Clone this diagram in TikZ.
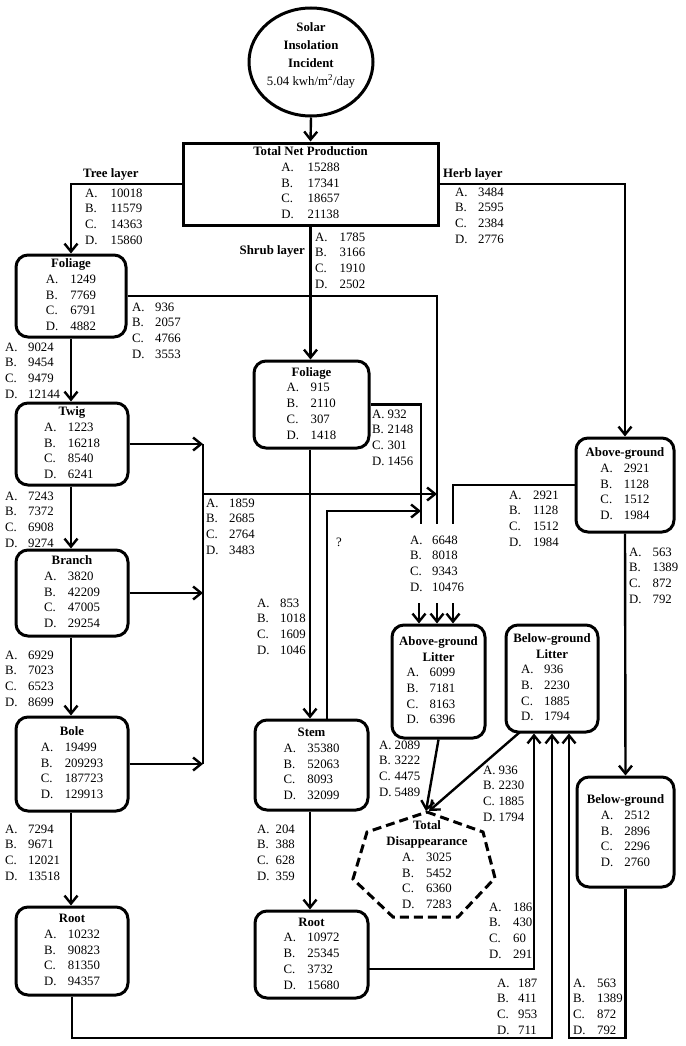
\documentclass[tikz,border=0pt]{standalone}
\usepackage{fontspec}
\setmainfont{Liberation Serif}
\usetikzlibrary{arrows.meta,shapes.geometric}
\newcommand\fs{\fontsize{12.8}{15.7}\selectfont}
\newenvironment{bt}[2]{\begin{tabular}{@{}l@{\hspace{#1}}l@{\hspace{#2}}}}{\end{tabular}}
\newenvironment{vt}[1]{\begin{tabular}[t]{@{}l@{\hspace{#1}}l@{}}}{\end{tabular}}
\newcommand\ttl[1]{\multicolumn{2}{@{}c@{}}{\makebox[0pt]{\textbf{#1}}}\\}
\newcommand\abcd[4]{A. & #1\\B. & #2\\C. & #3\\D. & #4}
\begin{document}
\begin{tikzpicture}[x=1pt,y=-1pt,font=\fs,
  bx/.style={draw,line width=3pt,rounded corners=12pt,inner sep=0pt},
  ln/.style={line width=2.4pt},
  ar/.style={ln,-{Straight Barb[length=8pt,width=13pt]}},
  lbl/.style={inner sep=0pt,anchor=base west},
  ttlab/.style={inner sep=0pt,font=\fs\bfseries}]
\useasboundingbox (0,0) rectangle (685,1046);
% ---------- nodes ----------
\node[draw,ellipse,line width=3pt,minimum width=124pt,minimum height=108pt,inner sep=0pt] (solar) at (311,62) {};
\node[align=center,inner sep=0pt,font=\fontsize{12.8}{18}\selectfont] (solartxt) at (311,55)
  {\textbf{Solar}\\\textbf{Insolation}\\\textbf{Incident}\\5.04 kwh/m\textsuperscript{2}/day};
\node[draw,line width=3pt,minimum width=255pt,minimum height=82pt,inner sep=0pt] (tnp) at (310.5,184)
  {\begin{bt}{14pt}{0pt}\ttl{Total Net Production}\abcd{15288}{17341}{18657}{21138}\end{bt}};
% tree column
\node[bx,minimum width=110pt,minimum height=82pt] (tfol) at (71,296)
  {\begin{bt}{12pt}{0pt}\ttl{Foliage}\abcd{1249}{7769}{6791}{4882}\end{bt}};
\node[bx,minimum width=112pt,minimum height=82pt] (twig) at (72,444)
  {\begin{bt}{11.5pt}{0pt}\ttl{Twig}\abcd{1223}{16218}{8540}{6241}\end{bt}};
\node[bx,minimum width=112pt,minimum height=86pt] (branch) at (72,593)
  {\begin{bt}{11.5pt}{0pt}\ttl{Branch}\abcd{3820}{42209}{47005}{29254}\end{bt}};
\node[bx,minimum width=112pt,minimum height=94pt] (bole) at (72,764)
  {\begin{bt}{11.5pt}{0pt}\ttl{Bole}\abcd{19499}{209293}{187723}{129913}\end{bt}};
\node[bx,minimum width=112pt,minimum height=88pt] (troot) at (72,951)
  {\begin{bt}{11.5pt}{0pt}\ttl{Root}\abcd{10232}{90823}{81350}{94357}\end{bt}};
% shrub column
\node[bx,minimum width=115pt,minimum height=87pt] (sfol) at (311.5,404.5)
  {\begin{bt}{11.5pt}{0pt}\ttl{Foliage}\abcd{915}{2110}{307}{1418}\end{bt}};
\node[bx,minimum width=113pt,minimum height=90pt] (stem) at (311.5,765)
  {\begin{bt}{11.5pt}{0pt}\ttl{Stem}\abcd{35380}{52063}{8093}{32099}\end{bt}};
\node[bx,minimum width=113pt,minimum height=87pt] (sroot) at (311.5,954.5)
  {\begin{bt}{11.5pt}{0pt}\ttl{Root}\abcd{10972}{25345}{3732}{15680}\end{bt}};
% herb column
\node[bx,minimum width=98pt,minimum height=94pt] (agh) at (625,485)
  {\begin{bt}{11pt}{0pt}\ttl{Above-ground}\abcd{2921}{1128}{1512}{1984}\end{bt}};
\node[bx,minimum width=97pt,minimum height=110pt] (bgh) at (625.5,832)
  {\begin{bt}{11pt}{0pt}\ttl{Below-ground}\abcd{2512}{2896}{2296}{2760}\end{bt}};
% litter
\node[bx,minimum width=93pt,minimum height=113pt] (agl) at (438.5,681.5)
  {\begin{bt}{10.5pt}{15pt}\ttl{Above-ground}\ttl{Litter}\abcd{6099}{7181}{8163}{6396}\end{bt}};
\node[bx,minimum width=92pt,minimum height=107pt] (bgl) at (552,678.5)
  {\begin{bt}{10.5pt}{13pt}\ttl{Below-ground}\ttl{Litter}\abcd{936}{2230}{1885}{1794}\end{bt}};
% total disappearance
\draw[line width=3pt,dash pattern=on 9pt off 5pt]
  (427,812) -- (483,832) -- (495,878) -- (458,917) -- (393,917) -- (353,879) -- (367,832) -- cycle;
\node[inner sep=0pt] (td) at (427,866)
  {\begin{bt}{11.5pt}{0pt}\ttl{Total}\ttl{Disappearance}\abcd{3025}{5452}{6360}{7283}\end{bt}};
\coordinate (tdtop) at (426,811);
% ---------- coordinates ----------
\coordinate (c1) at (437,524);
\coordinate (c2) at (421,524);
\coordinate (c3) at (453,524);
\coordinate (ktop) at (203,444);
\coordinate (kbot) at (203,764);
\coordinate (kmid) at (203,494);
\coordinate (q1) at (327,720);
\coordinate (q2) at (421,511);
\coordinate (a1) at (419,603);
\coordinate (a2) at (437,603);
\coordinate (a3) at (453,603);
\coordinate (s1) at (368,969);
\coordinate (u1) at (534,969);
\coordinate (b1) at (552,1038);
\coordinate (b2) at (569,1038);
\coordinate (g1) at (520,732);
% ---------- connectors ----------
\draw[ar] (solar.south) -- (tnp.north);
\draw[ar] (tnp.west) -| (tfol.north);
\draw[ar] (tnp.east) -| (agh.north);
\draw[ar] (tnp.south) -- (tnp.south |- sfol.north);
\draw[ln] (tfol.east) -| (c1);
\draw[ar] (tfol.south) -- (tfol.south |- twig.north);
\draw[ar] (twig.south -| tfol.south) -- (tfol.south |- branch.north);
\draw[ar] (branch.south -| tfol.south) -- (tfol.south |- bole.north);
\draw[ar] (bole.south -| tfol.south) -- (tfol.south |- troot.north);
\draw[ar] (twig.east) -- (ktop);
\draw[ar] (branch.east) -- (branch.east -| ktop);
\draw[ar] (bole.east) -- (kbot);
\draw[ln] (ktop) -- (kbot);
\draw[ar] (kmid) -- (kmid -| c1);
\draw[ln] (sfol.east) -| (c2);
\draw[ar] (q1) |- (q2);
\draw[ar] (sfol.south -| 310,0) -- (stem.north -| 310,0);
\draw[ar] (stem.south -| 310,0) -- (sroot.north -| 310,0);
\draw[ln] (agh.west) -| (c3);
\draw[ar] (a1) -- (a1 |- agl.north);
\draw[ar] (a2) -- (a2 |- agl.north);
\draw[ar] (a3) -- (a3 |- agl.north);
\draw[ar] (agh.south) -- (bgh.north);
\draw[ar] (agl.south) -- (tdtop);
\draw[ar] (g1) -- ([xshift=3pt]tdtop);
\draw[ar] (s1) -- (u1) -- (u1 |- bgl.south);
\draw[ar] (troot.south) |- (b1) -- (b1 |- bgl.south);
\draw[ar] (bgh.south) |- (b2) -- (b2 |- bgl.south);
% ---------- labels ----------
\node[ttlab,anchor=base west] (ltree) at (83,177) {Tree layer};
\node[ttlab,anchor=base west] (lherb) at (443,177) {Herb layer};
\node[ttlab,anchor=base east] (lshrub) at (305,254) {Shrub layer};
\node[lbl] (vtree) at (85,197) {\begin{vt}{13pt}\abcd{10018}{11579}{14363}{15860}\end{vt}};
\node[lbl] (vherb) at (455,196) {\begin{vt}{10.5pt}\abcd{3484}{2595}{2384}{2776}\end{vt}};
\node[lbl] (vshrub) at (315,241) {\begin{vt}{12pt}\abcd{1785}{3166}{1910}{2502}\end{vt}};
\node[lbl] (vtf) at (132,311) {\begin{vt}{10.5pt}\abcd{936}{2057}{4766}{3553}\end{vt}};
\node[lbl] (vtt) at (5,351) {\begin{vt}{10.5pt}\abcd{9024}{9454}{9479}{12144}\end{vt}};
\node[lbl] (vtb) at (5,500) {\begin{vt}{10.5pt}\abcd{7243}{7372}{6908}{9274}\end{vt}};
\node[lbl] (vbb) at (5,659) {\begin{vt}{10.5pt}\abcd{6929}{7023}{6523}{8699}\end{vt}};
\node[lbl] (vbr) at (5,833) {\begin{vt}{10.5pt}\abcd{7294}{9671}{12021}{13518}\end{vt}};
\node[lbl] (vcol) at (206,507) {\begin{vt}{10.5pt}\abcd{1859}{2685}{2764}{3483}\end{vt}};
\node[lbl] (vsst) at (257,607) {\begin{vt}{10.5pt}\abcd{853}{1018}{1609}{1046}\end{vt}};
\node[lbl] (vsfl) at (372,418) {\begin{vt}{3pt}\abcd{932}{2148}{301}{1456}\end{vt}};
\node[lbl] (vssr) at (257,833) {\begin{vt}{6pt}\abcd{204}{388}{628}{359}\end{vt}};
\node[lbl] (vagh) at (509,499) {\begin{vt}{11.5pt}\abcd{2921}{1128}{1512}{1984}\end{vt}};
\node[lbl] (vsum) at (410,544) {\begin{vt}{9.5pt}\abcd{6648}{8018}{9343}{10476}\end{vt}};
\node[lbl] (vhh) at (629,556) {\begin{vt}{11pt}\abcd{563}{1389}{872}{792}\end{vt}};
\node[lbl] (vagl) at (379,749) {\begin{vt}{3pt}\abcd{2089}{3222}{4475}{5489}\end{vt}};
\node[lbl] (vbgl) at (483,774) {\begin{vt}{3pt}\abcd{936}{2230}{1885}{1794}\end{vt}};
\node[lbl] (vsr) at (489,911) {\begin{vt}{11.5pt}\abcd{186}{430}{60}{291}\end{vt}};
\node[lbl] (vtr) at (497,987) {\begin{vt}{8.5pt}\abcd{187}{411}{953}{711}\end{vt}};
\node[lbl] (vbg) at (573,987) {\begin{vt}{11.5pt}\abcd{563}{1389}{872}{792}\end{vt}};
\node[lbl] (qm) at (336,546) {?};
\end{tikzpicture}
\end{document}
